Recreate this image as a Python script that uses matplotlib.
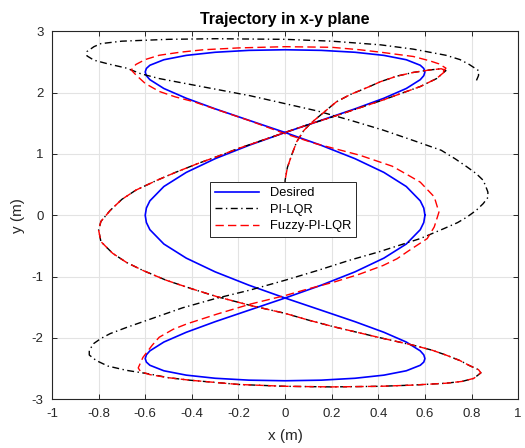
import matplotlib.pyplot as plt

plt.rcParams['font.family'] = ['Liberation Sans', 'DejaVu Sans']
plt.rcParams['axes.unicode_minus'] = False

# desired trajectory
desired_x = [0.600, 0.595, 0.580, 0.520, 0.424, 0.300, 0.155, 0.000, -0.155, -0.300, -0.424,
             -0.520, -0.580, -0.595, -0.600, -0.595, -0.580, -0.520, -0.424, -0.300, -0.155, 0.000,
             0.155, 0.300, 0.424, 0.520, 0.580, 0.595, 0.600, 0.595, 0.580, 0.520, 0.424, 0.300,
             0.155, 0.000, -0.155, -0.300, -0.424, -0.520, -0.580, -0.595, -0.600,
             -0.595, -0.580, -0.520, -0.424, -0.300, -0.155, 0.000, 0.155, 0.300, 0.424,
             0.520, 0.580, 0.595, 0.600, 0.595, 0.580, 0.520, 0.424, 0.300, 0.155, 0.000,
             -0.155, -0.300, -0.424, -0.520, -0.580, -0.595, -0.600, -0.595, -0.580, -0.520,
             -0.424, -0.300, -0.155, 0.000, 0.155, 0.300, 0.424, 0.520, 0.580, 0.595, 0.600]
desired_y = [0.000, 0.118, 0.235, 0.469, 0.699, 0.923, 1.141, 1.350, 1.549, 1.736, 1.909,
             2.068, 2.212, 2.277, 2.338, 2.395, 2.447, 2.537, 2.608, 2.659, 2.690, 2.700,
             2.690, 2.659, 2.608, 2.537, 2.447, 2.395, 2.338, 2.277, 2.212, 2.068, 1.909, 1.736,
             1.549, 1.350, 1.141, 0.923, 0.699, 0.469, 0.235, 0.118, 0.000,
             -0.118, -0.235, -0.469, -0.699, -0.923, -1.141, -1.350, -1.549, -1.736, -1.909,
             -2.068, -2.212, -2.277, -2.338, -2.395, -2.447, -2.537, -2.608, -2.659, -2.690, -2.700,
             -2.690, -2.659, -2.608, -2.537, -2.447, -2.395, -2.338, -2.277, -2.212, -2.068,
             -1.909, -1.736, -1.549, -1.350, -1.141, -0.923, -0.699, -0.469, -0.235, -0.118, 0.000]

# PI-LQR response
pi_x = [0.00, 0.00, 0.00, 0.01, 0.03, 0.05, 0.08, 0.11, 0.16, 0.22, 0.28, 0.35, 0.41,
        0.48, 0.55, 0.62, 0.67, 0.69, 0.65, 0.58, 0.50, 0.42, 0.31, 0.20, 0.10, 0.00,
        -0.10, -0.20, -0.29, -0.37, -0.47, -0.55, -0.64, -0.70, -0.75, -0.79, -0.80,
        -0.79, -0.74, -0.68, -0.61, -0.51, -0.40, -0.29, -0.15, 0.00, 0.10, 0.21, 0.31,
        0.41, 0.55, 0.63, 0.69, 0.75, 0.79, 0.83, 0.84, 0.81, 0.76, 0.69, 0.55, 0.41,
        0.20, 0.00, -0.20, -0.29, -0.41, -0.50, -0.58, -0.68, -0.76, -0.81, -0.84, -0.84,
        -0.82, -0.79, -0.75, -0.68, -0.59, -0.44, -0.30, -0.15, 0.00, 0.14, 0.28, 0.40,
        0.49, 0.58, 0.68, 0.74, 0.78, 0.82, 0.85, 0.87, 0.87, 0.86, 0.85, 0.82, 0.78,
        0.73, 0.67, 0.55, 0.42, 0.28, 0.14, 0.00, -0.15, -0.29, -0.40, -0.54, -0.62,
        -0.68, -0.76, -0.82, -0.85, -0.85, -0.82, -0.79, -0.70, -0.50, -0.30, 0.00,
        0.20, 0.41, 0.55, 0.69, 0.75, 0.79, 0.83, 0.83, 0.82]
pi_y = [0.00, 0.30, 0.57, 0.78, 1.00, 1.20, 1.38, 1.50, 1.66, 1.85, 1.97, 2.08, 2.18,
        2.27, 2.33, 2.37, 2.39, 2.36, 2.23, 2.10, 1.99, 1.88, 1.74, 1.60, 1.48, 1.35,
        1.22, 1.09, 0.96, 0.85, 0.70, 0.57, 0.41, 0.26, 0.08, -0.10, -0.24,
        -0.43, -0.62, -0.77, -0.90, -1.06, -1.20, -1.33, -1.47, -1.60, -1.71, -1.82, -1.91,
        -2.00, -2.12, -2.20, -2.28, -2.37, -2.45, -2.52, -2.57, -2.66, -2.71, -2.74, -2.77, -2.79,
        -2.80, -2.79, -2.76, -2.73, -2.69, -2.65, -2.59, -2.53, -2.46, -2.37, -2.28, -2.20,
        -2.09, -2.01, -1.93, -1.83, -1.71, -1.51, -1.36, -1.22, -1.06, -0.90, -0.73, -0.60,
        -0.49, -0.38, -0.22, -0.12, -0.03, 0.08, 0.19, 0.29, 0.38, 0.48, 0.57, 0.68, 0.79,
        0.92, 1.06, 1.22, 1.39, 1.55, 1.70, 1.82, 1.95, 2.05, 2.13, 2.23, 2.31,
        2.40, 2.47, 2.53, 2.60, 2.67, 2.75, 2.80, 2.84, 2.87, 2.88, 2.87,
        2.84, 2.78, 2.71, 2.61, 2.54, 2.46, 2.36, 2.28, 2.19]

# Fuzzy-PI-LQR response
fz_x = [0.00, 0.00, 0.00, 0.01, 0.03, 0.05, 0.08, 0.11, 0.16, 0.22, 0.28, 0.35, 0.41,
        0.48, 0.55, 0.62, 0.67, 0.69, 0.65, 0.58, 0.50, 0.42, 0.31, 0.20, 0.10, 0.00,
        -0.10, -0.20, -0.29, -0.37, -0.47, -0.55, -0.64, -0.70, -0.75, -0.79, -0.80,
        -0.79, -0.74, -0.68, -0.61, -0.51, -0.40, -0.29, -0.15, 0.00, 0.10, 0.21, 0.31,
        0.41, 0.55, 0.63, 0.69, 0.75, 0.79, 0.83, 0.84, 0.81, 0.76, 0.69, 0.55, 0.41,
        0.20, 0.00, -0.20, -0.29, -0.41, -0.50, -0.58, -0.62, -0.63, -0.61, -0.57, -0.54,
        -0.48, -0.42, -0.29, -0.15, 0.00, 0.10, 0.21, 0.32, 0.42, 0.48, 0.53, 0.61, 0.64,
        0.66, 0.64, 0.58, 0.53, 0.46, 0.32, 0.13, 0.00, -0.15, -0.29, -0.39, -0.47, -0.54,
        -0.60, -0.64, -0.66, -0.64, -0.60, -0.54, -0.45, -0.35, -0.20, 0.00, 0.20, 0.32,
        0.41, 0.55, 0.62, 0.66, 0.69, 0.67]
fz_y = [0.00, 0.30, 0.57, 0.78, 1.00, 1.20, 1.38, 1.50, 1.66, 1.85, 1.97, 2.08, 2.18,
        2.27, 2.33, 2.37, 2.39, 2.36, 2.23, 2.10, 1.99, 1.88, 1.74, 1.60, 1.48, 1.35,
        1.22, 1.09, 0.96, 0.85, 0.70, 0.57, 0.41, 0.26, 0.08, -0.10, -0.24,
        -0.43, -0.62, -0.77, -0.90, -1.06, -1.20, -1.33, -1.47, -1.60, -1.71, -1.82, -1.91,
        -2.00, -2.12, -2.20, -2.28, -2.37, -2.45, -2.52, -2.57, -2.66, -2.71, -2.74, -2.77, -2.79,
        -2.80, -2.79, -2.76, -2.73, -2.69, -2.65, -2.60, -2.55, -2.49, -2.32, -2.12, -1.99,
        -1.86, -1.77, -1.61, -1.45, -1.31, -1.20, -1.09, -0.96, -0.82, -0.71, -0.58, -0.38, -0.19,
        0.05, 0.30, 0.54, 0.65, 0.80, 0.98, 1.17, 1.33, 1.54, 1.72, 1.85, 1.93, 2.02,
        2.15, 2.29, 2.37, 2.46, 2.54, 2.61, 2.66, 2.70, 2.73, 2.75, 2.74, 2.70,
        2.66, 2.59, 2.52, 2.47, 2.40, 2.30]

xticks = [-1, -0.8, -0.6, -0.4, -0.2, 0, 0.2, 0.4, 0.6, 0.8, 1]
yticks = [-3, -2, -1, 0, 1, 2, 3]

fig = plt.figure(figsize=(5.25, 4.48), dpi=100)
ax = fig.add_axes([0.099, 0.109, 0.888, 0.821])

ax.plot(desired_x, desired_y, color='b', lw=1.2, label='Desired')
ax.plot(pi_x, pi_y, color='k', lw=1.0, dashes=(5, 2.5, 1, 2.5), label='PI-LQR')
ax.plot(fz_x, fz_y, color='r', lw=1.0, dashes=(6, 3), label='Fuzzy-PI-LQR')

ax.set_xlim(-1, 1)
ax.set_ylim(-3, 3)
ax.set_xticks(xticks)
ax.set_xticklabels(['%g' % v for v in xticks])
ax.set_yticks(yticks)
ax.set_yticklabels(['%g' % v for v in yticks])
ax.grid(True, color='#e3e3e3', lw=0.8)
ax.set_axisbelow(True)
ax.tick_params(direction='in', top=True, right=True, length=3.5, width=0.7,
               labelsize=9.5, colors='#262626', pad=6)
for s in ax.spines.values():
    s.set_color('#262626')
    s.set_linewidth(0.8)

ax.set_title('Trajectory in x-y plane', fontsize=11.5, fontweight='bold', pad=5)
ax.set_xlabel('x (m)', fontsize=11, color='#262626', labelpad=7)
ax.set_ylabel('y (m)', fontsize=11, color='#262626', labelpad=5)

leg = ax.legend(loc='center', bbox_to_anchor=(0.496, 0.515), fontsize=9.3,
                fancybox=False, edgecolor='#262626', framealpha=1,
                handlelength=3.4, borderpad=0.4, labelspacing=0.35)
leg.get_frame().set_linewidth(0.7)

fig.savefig('out.png', dpi=100)
